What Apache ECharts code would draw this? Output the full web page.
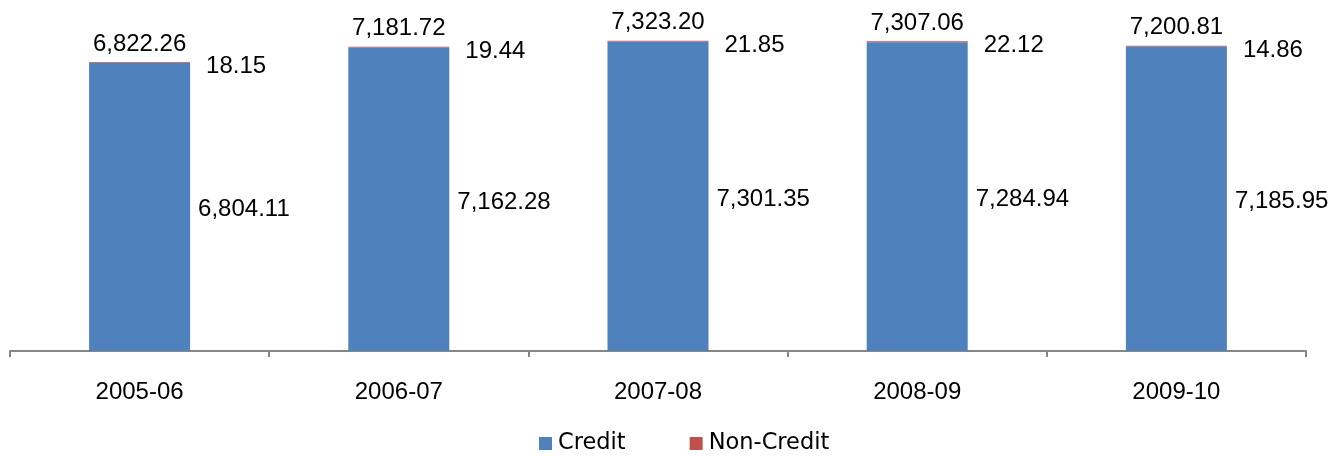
<!DOCTYPE html>
<html>
<head>
<meta charset="utf-8">
<script src="https://cdn.jsdelivr.net/npm/echarts@6/dist/echarts.min.js"></script>
<style>html,body{margin:0;padding:0;background:#fff;}#c{width:1333px;height:456px;}</style>
</head>
<body>
<div id="c"></div>
<script>
const categories = ['2005-06', '2006-07', '2007-08', '2008-09', '2009-10'];
const credit = [6804.11, 7162.28, 7301.35, 7284.94, 7185.95];
const nonCredit = [18.15, 19.44, 21.85, 22.12, 14.86];
const totals = [6822.26, 7181.72, 7323.20, 7307.06, 7200.81];

const fmt = v => Number(v).toLocaleString('en-US', {minimumFractionDigits: 2, maximumFractionDigits: 2});
const FONT = 'Liberation Sans, Arial, sans-serif';

const chart = echarts.init(document.getElementById('c'), null, {renderer: 'canvas'});
chart.setOption({
  animation: false,
  grid: {left: 10, right: 27, top: 12, bottom: 105, containLabel: false},
  legend: {
    data: ['Credit', 'Non-Credit'],
    top: 432,
    left: 539,
    padding: 0,
    itemWidth: 13, itemHeight: 13, itemGap: 64,
    icon: 'rect',
    textStyle: {fontFamily: 'DejaVu Sans', fontSize: 22.5, color: '#000', padding: [0, 0, 0, 1]}
  },
  xAxis: {
    type: 'category',
    data: categories,
    axisLine: {lineStyle: {color: '#868686', width: 2}},
    axisTick: {show: true, length: 6, lineStyle: {color: '#868686', width: 2}},
    axisLabel: {fontFamily: FONT, fontSize: 24, color: '#000', margin: 29}
  },
  yAxis: {type: 'value', min: 0, max: 8000, show: false, splitLine: {show: false}},
  series: [
    {
      name: 'Credit', type: 'bar', stack: 'a', barWidth: 101,
      data: credit,
      itemStyle: {color: '#4F81BD'},
      label: {show: true, position: 'right', distance: 8, offset: [0, 3], formatter: p => fmt(p.value),
        fontFamily: FONT, fontSize: 24, color: '#000'}
    },
    {
      name: 'Non-Credit', type: 'bar', stack: 'a', barWidth: 101,
      data: nonCredit,
      itemStyle: {color: '#C0504D'},
      label: {show: true, position: 'right', distance: 16, offset: [0, 4], formatter: p => fmt(p.value),
        fontFamily: FONT, fontSize: 24, color: '#000'}
    },
    {
      name: 'Total', type: 'bar', barWidth: 101, barGap: '-100%', z: 0,
      data: totals,
      itemStyle: {color: 'rgba(0,0,0,0)'},
      label: {show: true, position: 'top', distance: 6, formatter: p => fmt(p.value),
        fontFamily: FONT, fontSize: 24, color: '#000'}
    }
  ]
});
</script>
</body>
</html>
